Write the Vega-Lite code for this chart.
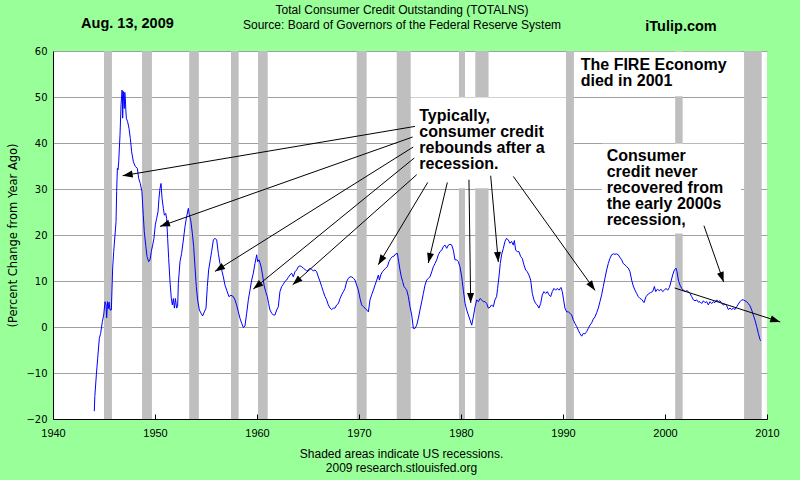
{
  "$schema": "https://vega.github.io/schema/vega-lite/v6.json",
  "width": 714,
  "height": 368,
  "autosize": {"type": "none"},
  "padding": {"left": 53, "top": 51, "right": 33, "bottom": 61},
  "background": "#99ff99",
  "config": {"view": {"stroke": null, "fill": "white"}, "font": "Liberation Sans"},
  "datasets": {
    "arrows": [
      {"hx": 1946.83, "hy": 32.89, "tx": 1975.49, "ty": 43.61},
      {"hx": 1950.49, "hy": 21.87, "tx": 1975.26, "ty": 41.3},
      {"hx": 1955.88, "hy": 12.09, "tx": 1975.32, "ty": 39.13},
      {"hx": 1959.64, "hy": 8.26, "tx": 1975.42, "ty": 36.74},
      {"hx": 1963.5, "hy": 9.2, "tx": 1975.66, "ty": 33.11},
      {"hx": 1971.89, "hy": 13.54, "tx": 1976.74, "ty": 31.43},
      {"hx": 1976.79, "hy": 13.91, "tx": 1978.66, "ty": 31.43},
      {"hx": 1980.95, "hy": 5.22, "tx": 1980.78, "ty": 32.02},
      {"hx": 1983.66, "hy": 14.13, "tx": 1982.91, "ty": 32.89},
      {"hx": 1993.14, "hy": 7.96, "tx": 1985.13, "ty": 32.74},
      {"hx": 2005.75, "hy": 9.8, "tx": 2003.82, "ty": 22.02},
      {"hx": 2011.3, "hy": 1.1, "tx": 2000.95, "ty": 8.48}
    ]
  },
  "layer": [
    {
      "data": {"values": [
        {"start": 1945.0, "end": 1945.78}, {"start": 1948.73, "end": 1949.7}, {"start": 1953.35, "end": 1954.3},
        {"start": 1957.45, "end": 1958.2}, {"start": 1960.1, "end": 1961.05}, {"start": 1969.78, "end": 1970.75},
        {"start": 1973.7, "end": 1975.07}, {"start": 1979.8, "end": 1980.39}, {"start": 1981.4, "end": 1982.7},
        {"start": 1990.29, "end": 1991.07}, {"start": 2001.0, "end": 2001.73}, {"start": 2007.75, "end": 2009.48}
      ]},
      "mark": {"type": "rect", "color": "#bfbfbf"},
      "encoding": {
        "x": {
          "field": "start", "type": "quantitative",
          "scale": {"domain": [1940, 2010], "nice": false, "zero": false},
          "axis": {
            "title": ["Shaded areas indicate US recessions.", "2009 research.stlouisfed.org"],
            "values": [1940, 1950, 1960, 1970, 1980, 1990, 2000, 2010],
            "format": "d", "grid": false, "tickSize": -5, "tickColor": "black", "domainColor": "black",
            "labelFont": "Liberation Sans", "labelFontSize": 11, "labelColor": "black", "labelPadding": 13,
            "labelFlush": false, "labelOverlap": false,
            "titleFont": "Liberation Sans", "titleFontSize": 12, "titleFontWeight": "normal", "titleColor": "black",
            "titleLineHeight": 14, "titleX": 348, "titleY": 38, "titleBaseline": "alphabetic", "titleAlign": "center",
            "zindex": 1
          }
        },
        "x2": {"field": "end"}
      }
    },
    {
      "data": {"values": [
        {"x": 1975.1, "x2": 1990.28, "y": 30.15, "y2": 49.9},
        {"x": 1991.08, "x2": 2007.5, "y": 50.15, "y2": 59.85},
        {"x": 1993.8, "x2": 2007.45, "y": 20.3, "y2": 39.85}
      ]},
      "mark": {"type": "rect", "color": "white"},
      "encoding": {
        "x": {"field": "x", "type": "quantitative", "scale": {"domain": [1940, 2010], "nice": false, "zero": false}},
        "x2": {"field": "x2"},
        "y": {
          "field": "y", "type": "quantitative",
          "scale": {"domain": [-20, 60], "nice": false, "zero": false},
          "axis": {
            "title": "(Percent Change from Year Ago)",
            "values": [-20, -10, 0, 10, 20, 30, 40, 50, 60],
            "grid": true, "gridColor": "#a0a0a0", "ticks": false, "domainColor": "black",
            "labelFont": "DejaVu Sans", "labelFontSize": 10, "labelColor": "black", "labelPadding": 6,
            "titleFont": "DejaVu Sans", "titleFontSize": 11.5, "titleFontWeight": "normal", "titleColor": "black",
            "titlePadding": 7, "zindex": 0
          }
        },
        "y2": {"field": "y2"}
      }
    },
    {
      "data": {"values": [
        {"year": 1944.05, "pct": -18.3}, {"year": 1944.1, "pct": -15.1}, {"year": 1944.25, "pct": -10.4}, {"year": 1944.38, "pct": -6.8},
        {"year": 1944.54, "pct": -2.5}, {"year": 1944.67, "pct": -1.4}, {"year": 1944.84, "pct": 1.2}, {"year": 1944.97, "pct": 2.6},
        {"year": 1945.1, "pct": 5.5}, {"year": 1945.2, "pct": 4.8}, {"year": 1945.26, "pct": 2.0}, {"year": 1945.35, "pct": 5.5},
        {"year": 1945.43, "pct": 4.0}, {"year": 1945.5, "pct": 5.4}, {"year": 1945.59, "pct": 3.7}, {"year": 1945.72, "pct": 3.7},
        {"year": 1945.78, "pct": 8.0}, {"year": 1945.85, "pct": 12.8}, {"year": 1945.95, "pct": 16.4}, {"year": 1946.08, "pct": 20.0},
        {"year": 1946.18, "pct": 22.9}, {"year": 1946.24, "pct": 29.4}, {"year": 1946.31, "pct": 34.5}, {"year": 1946.38, "pct": 34.2},
        {"year": 1946.44, "pct": 35.9}, {"year": 1946.57, "pct": 41.7}, {"year": 1946.67, "pct": 48.3}, {"year": 1946.77, "pct": 51.5},
        {"year": 1946.8, "pct": 50.5}, {"year": 1946.83, "pct": 45.4}, {"year": 1946.89, "pct": 51.2}, {"year": 1946.94, "pct": 49.0},
        {"year": 1946.99, "pct": 47.5}, {"year": 1947.04, "pct": 51.0}, {"year": 1947.09, "pct": 49.7}, {"year": 1947.14, "pct": 47.2},
        {"year": 1947.19, "pct": 45.4}, {"year": 1947.32, "pct": 44.6}, {"year": 1947.45, "pct": 43.2}, {"year": 1947.58, "pct": 41.0},
        {"year": 1947.71, "pct": 38.1}, {"year": 1947.88, "pct": 35.9}, {"year": 1948.07, "pct": 34.9}, {"year": 1948.27, "pct": 34.5},
        {"year": 1948.4, "pct": 32.3}, {"year": 1948.56, "pct": 31.2}, {"year": 1948.72, "pct": 29.4}, {"year": 1948.85, "pct": 24.3},
        {"year": 1948.95, "pct": 20.7}, {"year": 1949.09, "pct": 17.8}, {"year": 1949.22, "pct": 15.3}, {"year": 1949.38, "pct": 14.2},
        {"year": 1949.51, "pct": 14.6}, {"year": 1949.64, "pct": 16.4}, {"year": 1949.77, "pct": 17.8}, {"year": 1949.9, "pct": 19.3},
        {"year": 1950.03, "pct": 22.2}, {"year": 1950.16, "pct": 23.6}, {"year": 1950.3, "pct": 25.1}, {"year": 1950.39, "pct": 28.0},
        {"year": 1950.49, "pct": 30.1}, {"year": 1950.59, "pct": 31.2}, {"year": 1950.69, "pct": 28.0}, {"year": 1950.82, "pct": 25.8},
        {"year": 1950.92, "pct": 24.3}, {"year": 1951.05, "pct": 24.7}, {"year": 1951.14, "pct": 23.6}, {"year": 1951.24, "pct": 19.3},
        {"year": 1951.34, "pct": 14.9}, {"year": 1951.47, "pct": 9.9}, {"year": 1951.6, "pct": 6.2}, {"year": 1951.7, "pct": 4.8},
        {"year": 1951.8, "pct": 6.2}, {"year": 1951.9, "pct": 4.1}, {"year": 1952.0, "pct": 6.2}, {"year": 1952.12, "pct": 4.1},
        {"year": 1952.22, "pct": 4.5}, {"year": 1952.29, "pct": 9.5}, {"year": 1952.45, "pct": 14.2}, {"year": 1952.61, "pct": 16.0},
        {"year": 1952.78, "pct": 18.9}, {"year": 1952.94, "pct": 21.8}, {"year": 1953.1, "pct": 24.0}, {"year": 1953.27, "pct": 25.8},
        {"year": 1953.37, "pct": 24.3}, {"year": 1953.5, "pct": 23.3}, {"year": 1953.66, "pct": 20.4}, {"year": 1953.79, "pct": 17.5},
        {"year": 1953.92, "pct": 13.1}, {"year": 1954.05, "pct": 8.8}, {"year": 1954.18, "pct": 5.9}, {"year": 1954.35, "pct": 3.7},
        {"year": 1954.51, "pct": 3.0}, {"year": 1954.67, "pct": 2.4}, {"year": 1954.84, "pct": 3.3}, {"year": 1955.0, "pct": 4.1},
        {"year": 1955.13, "pct": 8.8}, {"year": 1955.26, "pct": 12.4}, {"year": 1955.42, "pct": 14.6}, {"year": 1955.55, "pct": 16.4},
        {"year": 1955.72, "pct": 18.9}, {"year": 1955.88, "pct": 19.3}, {"year": 1956.05, "pct": 18.9}, {"year": 1956.21, "pct": 16.0},
        {"year": 1956.37, "pct": 13.8}, {"year": 1956.54, "pct": 12.4}, {"year": 1956.7, "pct": 10.9}, {"year": 1956.86, "pct": 9.1},
        {"year": 1957.03, "pct": 8.0}, {"year": 1957.25, "pct": 6.6}, {"year": 1957.45, "pct": 6.9}, {"year": 1957.68, "pct": 6.6},
        {"year": 1957.84, "pct": 5.9}, {"year": 1958.0, "pct": 4.8}, {"year": 1958.17, "pct": 3.3}, {"year": 1958.33, "pct": 1.9},
        {"year": 1958.5, "pct": 0.8}, {"year": 1958.66, "pct": -0.1}, {"year": 1958.82, "pct": 0.2}, {"year": 1958.99, "pct": 3.0},
        {"year": 1959.15, "pct": 5.9}, {"year": 1959.31, "pct": 8.0}, {"year": 1959.48, "pct": 10.2}, {"year": 1959.64, "pct": 11.7},
        {"year": 1959.8, "pct": 13.8}, {"year": 1959.97, "pct": 15.7}, {"year": 1960.06, "pct": 14.2}, {"year": 1960.2, "pct": 14.6},
        {"year": 1960.36, "pct": 13.5}, {"year": 1960.52, "pct": 11.7}, {"year": 1960.69, "pct": 9.1}, {"year": 1960.85, "pct": 7.7},
        {"year": 1961.01, "pct": 6.6}, {"year": 1961.14, "pct": 5.1}, {"year": 1961.27, "pct": 3.7}, {"year": 1961.44, "pct": 3.0},
        {"year": 1961.6, "pct": 2.6}, {"year": 1961.76, "pct": 2.6}, {"year": 1961.93, "pct": 3.7}, {"year": 1962.09, "pct": 4.4},
        {"year": 1962.25, "pct": 7.7}, {"year": 1962.42, "pct": 8.8}, {"year": 1962.58, "pct": 9.3}, {"year": 1962.74, "pct": 9.9},
        {"year": 1962.9, "pct": 10.2}, {"year": 1963.07, "pct": 10.8}, {"year": 1963.23, "pct": 11.3}, {"year": 1963.4, "pct": 11.7},
        {"year": 1963.56, "pct": 10.9}, {"year": 1963.72, "pct": 12.0}, {"year": 1963.89, "pct": 12.4}, {"year": 1964.05, "pct": 13.1},
        {"year": 1964.21, "pct": 13.3}, {"year": 1964.38, "pct": 13.1}, {"year": 1964.54, "pct": 12.8}, {"year": 1964.71, "pct": 12.5},
        {"year": 1964.87, "pct": 12.2}, {"year": 1965.03, "pct": 12.4}, {"year": 1965.2, "pct": 12.8}, {"year": 1965.36, "pct": 12.5},
        {"year": 1965.52, "pct": 12.2}, {"year": 1965.69, "pct": 12.4}, {"year": 1965.85, "pct": 12.0}, {"year": 1966.01, "pct": 10.9},
        {"year": 1966.18, "pct": 9.9}, {"year": 1966.34, "pct": 8.8}, {"year": 1966.5, "pct": 7.7}, {"year": 1966.67, "pct": 6.6},
        {"year": 1966.83, "pct": 5.9}, {"year": 1966.99, "pct": 4.8}, {"year": 1967.16, "pct": 4.1}, {"year": 1967.32, "pct": 3.8},
        {"year": 1967.49, "pct": 4.1}, {"year": 1967.65, "pct": 4.1}, {"year": 1967.81, "pct": 4.8}, {"year": 1967.98, "pct": 5.1},
        {"year": 1968.14, "pct": 6.2}, {"year": 1968.3, "pct": 7.0}, {"year": 1968.47, "pct": 7.7}, {"year": 1968.63, "pct": 8.4},
        {"year": 1968.79, "pct": 9.9}, {"year": 1968.96, "pct": 10.6}, {"year": 1969.12, "pct": 10.9}, {"year": 1969.28, "pct": 10.9},
        {"year": 1969.45, "pct": 10.6}, {"year": 1969.61, "pct": 10.2}, {"year": 1969.77, "pct": 9.1}, {"year": 1969.94, "pct": 8.0},
        {"year": 1970.1, "pct": 6.2}, {"year": 1970.26, "pct": 4.8}, {"year": 1970.43, "pct": 4.4}, {"year": 1970.59, "pct": 4.1},
        {"year": 1970.75, "pct": 3.7}, {"year": 1970.92, "pct": 3.3}, {"year": 1971.08, "pct": 5.9}, {"year": 1971.24, "pct": 7.0},
        {"year": 1971.41, "pct": 8.0}, {"year": 1971.57, "pct": 9.1}, {"year": 1971.74, "pct": 10.2}, {"year": 1971.9, "pct": 11.3},
        {"year": 1972.0, "pct": 10.2}, {"year": 1972.13, "pct": 11.3}, {"year": 1972.29, "pct": 12.0}, {"year": 1972.45, "pct": 12.4},
        {"year": 1972.62, "pct": 12.8}, {"year": 1972.78, "pct": 13.1}, {"year": 1972.94, "pct": 14.2}, {"year": 1973.11, "pct": 14.9},
        {"year": 1973.27, "pct": 15.3}, {"year": 1973.43, "pct": 15.4}, {"year": 1973.6, "pct": 15.9}, {"year": 1973.76, "pct": 16.0},
        {"year": 1973.89, "pct": 14.2}, {"year": 1974.02, "pct": 12.4}, {"year": 1974.15, "pct": 10.9}, {"year": 1974.28, "pct": 9.9},
        {"year": 1974.41, "pct": 8.8}, {"year": 1974.55, "pct": 8.4}, {"year": 1974.68, "pct": 8.0}, {"year": 1974.84, "pct": 6.6},
        {"year": 1975.0, "pct": 4.4}, {"year": 1975.17, "pct": 2.6}, {"year": 1975.33, "pct": -0.3}, {"year": 1975.49, "pct": -0.3},
        {"year": 1975.66, "pct": 0.4}, {"year": 1975.82, "pct": 1.9}, {"year": 1975.98, "pct": 3.7}, {"year": 1976.15, "pct": 5.5},
        {"year": 1976.31, "pct": 7.3}, {"year": 1976.47, "pct": 9.1}, {"year": 1976.64, "pct": 10.2}, {"year": 1976.8, "pct": 10.6},
        {"year": 1976.96, "pct": 10.9}, {"year": 1977.13, "pct": 12.0}, {"year": 1977.29, "pct": 13.1}, {"year": 1977.45, "pct": 13.8},
        {"year": 1977.62, "pct": 14.6}, {"year": 1977.78, "pct": 15.7}, {"year": 1977.94, "pct": 16.4}, {"year": 1978.11, "pct": 16.7},
        {"year": 1978.27, "pct": 17.5}, {"year": 1978.43, "pct": 17.8}, {"year": 1978.6, "pct": 17.1}, {"year": 1978.76, "pct": 17.8},
        {"year": 1978.92, "pct": 18.0}, {"year": 1979.09, "pct": 17.8}, {"year": 1979.25, "pct": 16.7}, {"year": 1979.41, "pct": 14.6},
        {"year": 1979.58, "pct": 14.6}, {"year": 1979.74, "pct": 14.2}, {"year": 1979.9, "pct": 13.1}, {"year": 1980.07, "pct": 10.9},
        {"year": 1980.23, "pct": 8.0}, {"year": 1980.4, "pct": 5.1}, {"year": 1980.56, "pct": 3.7}, {"year": 1980.72, "pct": 2.6},
        {"year": 1980.89, "pct": 1.5}, {"year": 1981.05, "pct": 0.4}, {"year": 1981.21, "pct": 2.2}, {"year": 1981.38, "pct": 4.4},
        {"year": 1981.54, "pct": 5.9}, {"year": 1981.7, "pct": 5.5}, {"year": 1981.87, "pct": 6.2}, {"year": 1982.03, "pct": 5.9},
        {"year": 1982.19, "pct": 5.5}, {"year": 1982.36, "pct": 5.5}, {"year": 1982.52, "pct": 5.1}, {"year": 1982.68, "pct": 4.1},
        {"year": 1982.84, "pct": 4.3}, {"year": 1983.0, "pct": 4.8}, {"year": 1983.17, "pct": 4.4}, {"year": 1983.33, "pct": 5.9},
        {"year": 1983.49, "pct": 6.6}, {"year": 1983.59, "pct": 8.4}, {"year": 1983.72, "pct": 10.9}, {"year": 1983.85, "pct": 13.8},
        {"year": 1983.98, "pct": 15.7}, {"year": 1984.15, "pct": 17.1}, {"year": 1984.31, "pct": 18.6}, {"year": 1984.47, "pct": 19.3},
        {"year": 1984.64, "pct": 18.9}, {"year": 1984.8, "pct": 18.2}, {"year": 1984.96, "pct": 18.6}, {"year": 1985.13, "pct": 17.8},
        {"year": 1985.23, "pct": 18.8}, {"year": 1985.36, "pct": 16.7}, {"year": 1985.52, "pct": 16.4}, {"year": 1985.68, "pct": 16.4},
        {"year": 1985.85, "pct": 15.3}, {"year": 1986.01, "pct": 14.9}, {"year": 1986.17, "pct": 13.5}, {"year": 1986.34, "pct": 12.4},
        {"year": 1986.5, "pct": 12.0}, {"year": 1986.66, "pct": 11.3}, {"year": 1986.83, "pct": 10.2}, {"year": 1986.99, "pct": 7.3},
        {"year": 1987.15, "pct": 5.9}, {"year": 1987.32, "pct": 5.1}, {"year": 1987.48, "pct": 4.8}, {"year": 1987.64, "pct": 4.1},
        {"year": 1987.81, "pct": 5.1}, {"year": 1987.97, "pct": 7.0}, {"year": 1988.13, "pct": 7.7}, {"year": 1988.3, "pct": 7.3},
        {"year": 1988.46, "pct": 7.7}, {"year": 1988.62, "pct": 7.0}, {"year": 1988.79, "pct": 6.6}, {"year": 1988.95, "pct": 7.7},
        {"year": 1989.11, "pct": 8.4}, {"year": 1989.28, "pct": 8.0}, {"year": 1989.44, "pct": 8.4}, {"year": 1989.6, "pct": 8.0},
        {"year": 1989.8, "pct": 8.6}, {"year": 1989.93, "pct": 7.7}, {"year": 1990.06, "pct": 5.9}, {"year": 1990.19, "pct": 4.1},
        {"year": 1990.36, "pct": 3.3}, {"year": 1990.52, "pct": 3.3}, {"year": 1990.68, "pct": 3.0}, {"year": 1990.85, "pct": 2.6},
        {"year": 1991.01, "pct": 1.5}, {"year": 1991.17, "pct": 0.8}, {"year": 1991.34, "pct": 0.1}, {"year": 1991.5, "pct": -0.7},
        {"year": 1991.66, "pct": -1.4}, {"year": 1991.83, "pct": -2.0}, {"year": 1991.99, "pct": -1.4}, {"year": 1992.15, "pct": -1.5},
        {"year": 1992.32, "pct": -1.0}, {"year": 1992.48, "pct": -0.3}, {"year": 1992.64, "pct": 0.4}, {"year": 1992.81, "pct": 0.9},
        {"year": 1992.97, "pct": 1.7}, {"year": 1993.13, "pct": 2.2}, {"year": 1993.3, "pct": 3.1}, {"year": 1993.46, "pct": 4.1},
        {"year": 1993.62, "pct": 5.5}, {"year": 1993.79, "pct": 7.0}, {"year": 1993.95, "pct": 8.8}, {"year": 1994.11, "pct": 10.6},
        {"year": 1994.28, "pct": 12.4}, {"year": 1994.44, "pct": 13.8}, {"year": 1994.6, "pct": 14.9}, {"year": 1994.77, "pct": 15.7},
        {"year": 1994.93, "pct": 15.9}, {"year": 1995.1, "pct": 15.8}, {"year": 1995.26, "pct": 15.9}, {"year": 1995.42, "pct": 15.7},
        {"year": 1995.59, "pct": 15.1}, {"year": 1995.75, "pct": 14.6}, {"year": 1995.91, "pct": 13.8}, {"year": 1996.08, "pct": 13.5},
        {"year": 1996.24, "pct": 13.1}, {"year": 1996.4, "pct": 12.8}, {"year": 1996.57, "pct": 12.0}, {"year": 1996.73, "pct": 10.2},
        {"year": 1996.89, "pct": 8.9}, {"year": 1997.06, "pct": 8.0}, {"year": 1997.22, "pct": 7.3}, {"year": 1997.38, "pct": 6.6},
        {"year": 1997.55, "pct": 6.2}, {"year": 1997.71, "pct": 6.0}, {"year": 1997.94, "pct": 5.3}, {"year": 1998.14, "pct": 6.6},
        {"year": 1998.37, "pct": 7.2}, {"year": 1998.6, "pct": 7.5}, {"year": 1998.79, "pct": 7.7}, {"year": 1998.96, "pct": 8.8},
        {"year": 1999.09, "pct": 7.7}, {"year": 1999.25, "pct": 8.2}, {"year": 1999.45, "pct": 7.9}, {"year": 1999.61, "pct": 8.2},
        {"year": 1999.77, "pct": 7.7}, {"year": 1999.94, "pct": 8.0}, {"year": 2000.1, "pct": 8.4}, {"year": 2000.26, "pct": 8.0},
        {"year": 2000.43, "pct": 8.6}, {"year": 2000.59, "pct": 9.9}, {"year": 2000.75, "pct": 11.3}, {"year": 2000.92, "pct": 12.4},
        {"year": 2001.08, "pct": 12.8}, {"year": 2001.18, "pct": 12.0}, {"year": 2001.31, "pct": 10.2}, {"year": 2001.47, "pct": 9.1},
        {"year": 2001.64, "pct": 8.4}, {"year": 2001.8, "pct": 8.0}, {"year": 2001.96, "pct": 7.7}, {"year": 2002.13, "pct": 7.9},
        {"year": 2002.29, "pct": 7.7}, {"year": 2002.45, "pct": 7.3}, {"year": 2002.62, "pct": 6.6}, {"year": 2002.78, "pct": 5.9},
        {"year": 2002.94, "pct": 5.7}, {"year": 2003.11, "pct": 5.9}, {"year": 2003.27, "pct": 5.4}, {"year": 2003.43, "pct": 5.5},
        {"year": 2003.6, "pct": 5.1}, {"year": 2003.76, "pct": 5.7}, {"year": 2003.92, "pct": 5.3}, {"year": 2004.09, "pct": 5.5},
        {"year": 2004.25, "pct": 4.8}, {"year": 2004.41, "pct": 5.5}, {"year": 2004.58, "pct": 5.1}, {"year": 2004.74, "pct": 5.5},
        {"year": 2004.9, "pct": 5.3}, {"year": 2005.07, "pct": 5.9}, {"year": 2005.23, "pct": 5.5}, {"year": 2005.39, "pct": 5.7},
        {"year": 2005.56, "pct": 5.1}, {"year": 2005.72, "pct": 4.8}, {"year": 2005.88, "pct": 5.0}, {"year": 2006.05, "pct": 4.6},
        {"year": 2006.21, "pct": 3.8}, {"year": 2006.37, "pct": 4.1}, {"year": 2006.54, "pct": 3.8}, {"year": 2006.7, "pct": 4.1},
        {"year": 2006.86, "pct": 3.8}, {"year": 2007.03, "pct": 4.4}, {"year": 2007.19, "pct": 5.0}, {"year": 2007.35, "pct": 5.5},
        {"year": 2007.52, "pct": 5.9}, {"year": 2007.68, "pct": 5.9}, {"year": 2007.84, "pct": 5.7}, {"year": 2008.01, "pct": 5.5},
        {"year": 2008.17, "pct": 5.1}, {"year": 2008.33, "pct": 4.6}, {"year": 2008.5, "pct": 3.7}, {"year": 2008.66, "pct": 2.6},
        {"year": 2008.82, "pct": 1.5}, {"year": 2008.99, "pct": 0.1}, {"year": 2009.15, "pct": -1.4}, {"year": 2009.31, "pct": -2.7},
        {"year": 2009.38, "pct": -3.0}
      ]},
      "mark": {"type": "line", "color": "#0000ff", "strokeWidth": 1},
      "encoding": {
        "x": {"field": "year", "type": "quantitative", "scale": {"domain": [1940, 2010], "nice": false, "zero": false}},
        "y": {"field": "pct", "type": "quantitative", "scale": {"domain": [-20, 60], "nice": false, "zero": false}}
      }
    },
    {
      "data": {"name": "arrows"},
      "mark": {"type": "rule", "color": "black", "strokeWidth": 1},
      "encoding": {
        "x": {"field": "tx", "type": "quantitative", "scale": {"domain": [1940, 2010], "nice": false, "zero": false}},
        "y": {"field": "ty", "type": "quantitative", "scale": {"domain": [-20, 60], "nice": false, "zero": false}},
        "x2": {"field": "hx"},
        "y2": {"field": "hy"}
      }
    },
    {
      "data": {"name": "arrows"},
      "transform": [
        {"calculate": "atan2((datum.hx - datum.tx) * 10.2, (datum.hy - datum.ty) * 4.6) * 180 / PI", "as": "angle"}
      ],
      "mark": {"type": "point", "shape": "M0,0L0.7,2L-0.7,2Z", "filled": true, "color": "black", "size": 100, "opacity": 1, "strokeWidth": 0},
      "encoding": {
        "x": {"field": "hx", "type": "quantitative", "scale": {"domain": [1940, 2010], "nice": false, "zero": false}},
        "y": {"field": "hy", "type": "quantitative", "scale": {"domain": [-20, 60], "nice": false, "zero": false}},
        "angle": {"field": "angle", "type": "quantitative", "scale": null}
      }
    },
    {
      "data": {"values": [
        {"x": 1975.91, "y": 44.7, "label": ["Typically,", "consumer credit", "rebounds after a", "recession."]},
        {"x": 1991.74, "y": 55.93, "label": ["The FIRE Economy", "died in 2001"]},
        {"x": 1994.28, "y": 36.0, "label": ["Consumer", "credit never", "recovered from", "the early 2000s", "recession,"]}
      ]},
      "mark": {"type": "text", "align": "left", "baseline": "alphabetic", "font": "Liberation Sans", "fontWeight": "bold", "fontSize": 16, "lineHeight": 15.8, "color": "black"},
      "encoding": {
        "x": {"field": "x", "type": "quantitative", "scale": {"domain": [1940, 2010], "nice": false, "zero": false}},
        "y": {"field": "y", "type": "quantitative", "scale": {"domain": [-20, 60], "nice": false, "zero": false}},
        "text": {"field": "label"}
      }
    },
    {
      "data": {"values": [
        {"x": 1947.3, "y": 65.0, "label": "Aug. 13, 2009"},
        {"x": 2001.57, "y": 64.4, "label": "iTulip.com"}
      ]},
      "mark": {"type": "text", "align": "center", "baseline": "alphabetic", "font": "Liberation Sans", "fontWeight": "bold", "fontSize": 14.5, "color": "black"},
      "encoding": {
        "x": {"field": "x", "type": "quantitative", "scale": {"domain": [1940, 2010], "nice": false, "zero": false}},
        "y": {"field": "y", "type": "quantitative", "scale": {"domain": [-20, 60], "nice": false, "zero": false}},
        "text": {"field": "label"}
      }
    },
    {
      "data": {"values": [
        {"x": 1974.22, "y": 68.1, "label": ["Total Consumer Credit Outstanding (TOTALNS)", "Source: Board of Governors of the Federal Reserve System"]}
      ]},
      "mark": {"type": "text", "align": "center", "baseline": "alphabetic", "font": "Liberation Sans", "fontWeight": "normal", "fontSize": 12, "lineHeight": 15, "color": "black"},
      "encoding": {
        "x": {"field": "x", "type": "quantitative", "scale": {"domain": [1940, 2010], "nice": false, "zero": false}},
        "y": {"field": "y", "type": "quantitative", "scale": {"domain": [-20, 60], "nice": false, "zero": false}},
        "text": {"field": "label"}
      }
    }
  ]
}
